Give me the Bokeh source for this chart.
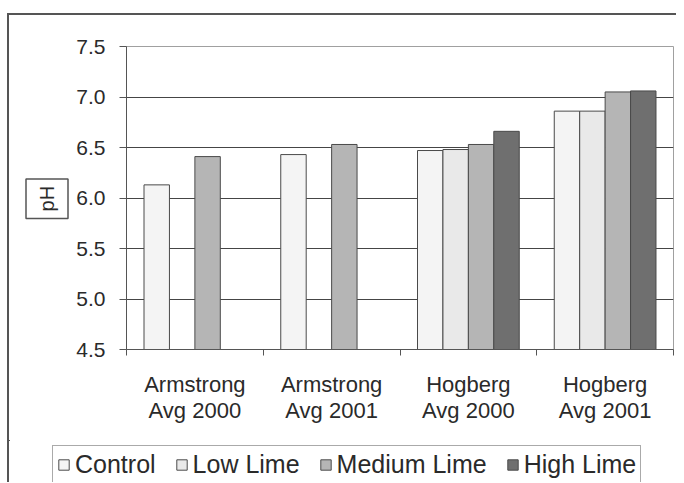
import numpy as np
from bokeh.plotting import figure
from bokeh.layouts import column, row
from bokeh.models import (ColumnDataSource, FixedTicker, PrintfTickFormatter, Legend,
                          LegendItem, Label)
from bokeh.embed import file_html
from bokeh.resources import INLINE

# ---- data ----
groups = ["Armstrong\nAvg 2000", "Armstrong\nAvg 2001", "Hogberg\nAvg 2000", "Hogberg\nAvg 2001"]
series = ["Control", "Low Lime", "Medium Lime", "High Lime"]
control = [6.13, 6.43, 6.47, 6.86]
low_lime = [None, None, 6.48, 6.86]
medium_lime = [6.41, 6.53, 6.53, 7.05]
high_lime = [None, None, 6.66, 7.06]
y_ticks = [4.5, 5.0, 5.5, 6.0, 6.5, 7.0, 7.5]

colors = ["#f4f4f4", "#e9e9e9", "#b5b5b5", "#6f6f6f"]
FONT = "Liberation Sans"
TXT = "#2a2a2a"
EDGE = "#4a4a4a"


def blank(fig):
    fig.background_fill_color = "white"
    fig.border_fill_color = "white"
    fig.outline_line_color = None
    fig.grid.visible = False


# ---- main chart ----
p = figure(width=603, height=425, x_range=(0, 4), y_range=(4.5, 7.5),
           output_backend="svg", toolbar_location=None,
           min_border_left=53, min_border_right=3, min_border_top=31, min_border_bottom=91)
p.background_fill_color = "white"
p.border_fill_color = "white"
p.outline_line_color = "#a0a0a0"
p.outline_line_width = 1

p.xgrid.visible = False
p.ygrid.ticker = FixedTicker(ticks=y_ticks[1:-1])
p.ygrid.grid_line_color = "#454545"
p.ygrid.grid_line_width = 1

ya = p.yaxis[0]
ya.ticker = FixedTicker(ticks=y_ticks)
ya.formatter = PrintfTickFormatter(format="%.1f")
ya.axis_line_color = "#555555"
ya.major_tick_line_color = "#555555"
ya.major_tick_out = 7
ya.major_tick_in = 0
ya.minor_tick_line_color = None
ya.major_label_standoff = 14
ya.major_label_text_font = FONT
ya.major_label_text_font_size = "21px"
ya.major_label_text_color = TXT

xa = p.xaxis[0]
xa.ticker = FixedTicker(ticks=[i + 0.5 for i in range(len(groups))],
                        minor_ticks=list(range(len(groups) + 1)))
xa.major_label_overrides = {i + 0.5: g for i, g in enumerate(groups)}
xa.axis_line_color = "#555555"
xa.major_tick_line_color = None
xa.major_tick_out = 0
xa.major_tick_in = 0
xa.minor_tick_line_color = "#555555"
xa.minor_tick_out = 6
xa.minor_tick_in = 0
xa.major_label_standoff = 16
xa.major_label_text_font = FONT
xa.major_label_text_font_size = "22px"
xa.major_label_text_color = TXT
xa.major_label_text_line_height = 1.05

w = 0.186
vals = [control, low_lime, medium_lime, high_lime]
sources = []
for k, v in enumerate(vals):
    xs = [i + 0.5 + (k - 1.5) * w for i in range(len(groups))]
    tops = [np.nan if t is None else t for t in v]
    src = ColumnDataSource(dict(x=xs, top=tops))
    sources.append(src)
    p.vbar(x="x", top="top", bottom=4.5, width=w, source=src,
           fill_color=colors[k], line_color=EDGE, line_width=1)

# ---- "pH" axis title in a box (left strip) ----
ph_fig = figure(width=64, height=425, x_range=(0, 64), y_range=(0, 425),
                output_backend="svg", toolbar_location=None,
                x_axis_location=None, y_axis_location=None,
                min_border_left=0, min_border_right=0, min_border_top=0, min_border_bottom=0)
blank(ph_fig)
ph = Label(x=37.5, y=211.5, text="pH", angle=np.pi / 2, text_align="center",
           text_baseline="middle", text_font=FONT, text_font_size="20px", text_color=TXT,
           border_line_color="#555555", border_line_width=1.5,
           background_fill_color="white")
try:
    ph.padding = (7, 10)
except Exception:
    ph.padding = 9
ph_fig.add_layout(ph)

# ---- legend strip (legend proxies share the chart's data; they fall outside this strip's view) ----
leg_fig = figure(width=667, height=42, x_range=(10, 11), y_range=(0, 1),
                 output_backend="svg", toolbar_location=None,
                 x_axis_location=None, y_axis_location=None,
                 min_border_left=0, min_border_right=0, min_border_top=0, min_border_bottom=0)
blank(leg_fig)
items = []
for k, name in enumerate(series):
    r = leg_fig.vbar(x="x", top="top", bottom=4.5, width=w, source=sources[k],
                     fill_color=colors[k], line_color=EDGE, line_width=1)
    items.append(LegendItem(label=name, renderers=[r]))
legend = Legend(items=items, orientation="horizontal", location=(43, -2))
legend.label_text_font = FONT
legend.label_text_font_size = "25px"
legend.label_text_color = TXT
legend.glyph_width = 13
legend.glyph_height = 13
legend.label_standoff = 5
legend.spacing = 19
legend.padding = 4
legend.margin = 0
legend.label_height = 25
legend.border_line_color = "#555555"
legend.border_line_width = 1.5
legend.background_fill_color = "white"
legend.background_fill_alpha = 1
leg_fig.add_layout(legend, "center")

layout = column(row(ph_fig, p), leg_fig)
layout.styles = {"margin-left": "7px", "margin-top": "13px",
                 "border-left": "2px solid #555555", "border-top": "2px solid #555555"}

open("out.html", "w").write(file_html(layout, INLINE))
